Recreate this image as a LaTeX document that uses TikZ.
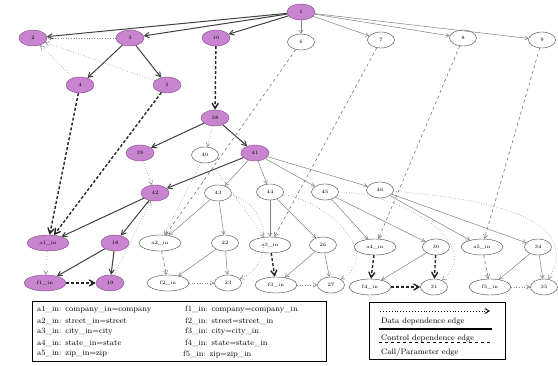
\documentclass[tikz,border=0pt]{standalone}
\usepackage{tikz}
\usetikzlibrary{shapes.geometric,arrows,positioning}
\definecolor{slicepink}{RGB}{200,132,206}
\definecolor{sliceline}{RGB}{125,70,135}
\tikzset
{
    slicenode/.style = {ellipse, draw=sliceline, fill=slicepink, minimum width=28pt, minimum height=16pt, inner sep=1pt, font=\tiny},
    plainnode/.style = {ellipse, draw=black!75, fill=white, minimum width=27pt, minimum height=16pt, inner sep=1pt, font=\tiny},
    paramnode/.style = {minimum width=42pt},
    ctrledge/.style  = {draw=black!75, line width=1pt},
    thinedge/.style  = {draw=black!50, line width=0.5pt},
    dataedge/.style  = {draw=black!45, dotted, line width=0.6pt},
    calledge/.style  = {draw=black!55, dashed, line width=0.6pt},
    heavyedge/.style = {draw=black!85, line width=1.4pt, dash pattern=on 3pt off 2pt},
    keytext/.style   = {anchor=west, font=\footnotesize, inner sep=0pt}
}

\begin{document}
\begin{tikzpicture}
    [->,>=angle 60,x=1pt,y=-1pt]
    \useasboundingbox (0,0) rectangle (558,366);
    % top part
    \node [slicenode] (n1) at (301,12) {1};
    \node [slicenode] (n2) at (33,38) {2};
    \node [slicenode] (n3) at (130,38) {3};
    \node [slicenode] (n10) at (216,38) {10};
    \node [plainnode] (n6) at (301,42) {6};
    \node [plainnode] (n7) at (381,40) {7};
    \node [plainnode] (n8) at (463,38) {8};
    \node [plainnode] (n9) at (542,40) {9};
    \node [slicenode] (n4) at (80,85) {4};
    \node [slicenode] (n5) at (167,85) {5};
    \node [slicenode] (n38) at (215,118) {38};
    \node [slicenode] (n39) at (140,153) {39};
    \node [plainnode] (n40) at (205,155) {40};
    \node [slicenode] (n41) at (255,153) {41};
    \node [slicenode] (n42) at (155,193) {42};
    \node [plainnode] (n43) at (218,193) {43};
    \node [plainnode] (n44) at (270,192) {44};
    \node [plainnode] (n45) at (325,192) {45};
    \node [plainnode] (n46) at (380,190) {46};
    % parameter nodes
    \node [slicenode, paramnode] (a1) at (48,243) {a1\_in};
    \node [slicenode] (n18) at (115,243) {18};
    \node [slicenode, paramnode] (f1) at (45,283) {f1\_in};
    \node [slicenode] (n19) at (110,283) {19};
    \node [plainnode, paramnode] (a2) at (160,243) {a2\_in};
    \node [plainnode] (n22) at (225,243) {22};
    \node [plainnode, paramnode] (f2) at (168,283) {f2\_in};
    \node [plainnode] (n23) at (228,283) {23};
    \node [plainnode, paramnode] (a3) at (270,245) {a3\_in};
    \node [plainnode] (n26) at (323,245) {26};
    \node [plainnode, paramnode] (f3) at (276,285) {f3\_in};
    \node [plainnode] (n27) at (331,285) {27};
    \node [plainnode, paramnode] (a4) at (375,247) {a4\_in};
    \node [plainnode] (n30) at (436,247) {30};
    \node [plainnode, paramnode] (f4) at (370,287) {f4\_in};
    \node [plainnode] (n31) at (434,287) {31};
    \node [plainnode, paramnode] (a5) at (482,247) {a5\_in};
    \node [plainnode] (n34) at (538,247) {34};
    \node [plainnode, paramnode] (f5) at (490,287) {f5\_in};
    \node [plainnode] (n35) at (544,287) {35};

    % control edges
    \draw [ctrledge] (n1) -- (n2);
    \draw [ctrledge] (n1) -- (n3);
    \draw [ctrledge] (n1) -- (n10);
    \draw [thinedge] (n1) -- (n6);
    \draw [thinedge] (n1) -- (n7);
    \draw [thinedge] (n1) -- (n8);
    \draw [thinedge] (n1) -- (n9);
    \draw [ctrledge] (n3) -- (n4);
    \draw [ctrledge] (n3) -- (n5);
    \draw [ctrledge] (n38) -- (n39);
    \draw [ctrledge] (n38) -- (n41);
    \draw [ctrledge] (n41) -- (n42);
    \draw [thinedge] (n41) -- (n43);
    \draw [thinedge] (n41) -- (n44);
    \draw [thinedge] (n41) -- (n45);
    \draw [thinedge] (n41) -- (n46);
    \draw [ctrledge] (n42) -- (a1);
    \draw [ctrledge] (n42) -- (n18);
    \draw [ctrledge] (n18) -- (f1);
    \draw [ctrledge] (n18) -- (n19);
    \draw [thinedge] (n43) -- (a2);
    \draw [thinedge] (n43) -- (n22);
    \draw [thinedge] (n22) -- (f2);
    \draw [thinedge] (n22) -- (n23);
    \draw [thinedge] (n44) -- (a3);
    \draw [thinedge] (n44) -- (n26);
    \draw [thinedge] (n26) -- (f3);
    \draw [thinedge] (n26) -- (n27);
    \draw [thinedge] (n45) -- (a4);
    \draw [thinedge] (n45) -- (n30);
    \draw [thinedge] (n30) -- (f4);
    \draw [thinedge] (n46) -- (a5);
    \draw [thinedge] (n46) -- (n34);
    \draw [thinedge] (n34) -- (f5);
    \draw [thinedge] (n34) -- (n35);

    % data edges
    \draw [dataedge] (n3) -- (n2);
    \draw [dataedge] (n4) -- (n2);
    \draw [dataedge] (n5) -- (n2);
    \draw [dataedge] (n38) -- (n40);
    \draw [dataedge] (n39) -- (n42);
    \draw [dataedge] (n19) -- (n42);
    \draw [dataedge] (n40) -- (a2);
    \draw [dataedge] (n40) -- (a3);
    \draw [dataedge] (a1) -- (f1);
    \draw [dataedge] (f2) -- (n23);
    \draw [dataedge] (f3) -- (n27);
    \draw [dataedge] (f5) -- (n35);
    \draw [dataedge] (n43) to [out=-10, in=20, looseness=1.2] (n23);
    \draw [dataedge] (n44) to [out=-10, in=30, looseness=1.2] (n27);
    \draw [dataedge] (n45) to [out=0, in=40, looseness=1.1] (n31);
    \draw [dataedge] (n46) to [out=-5, in=60, looseness=1.1] (n35);

    % call and parameter edges
    \draw [heavyedge] (n10) -- (n38);
    \draw [heavyedge] (n4) -- (a1);
    \draw [heavyedge] (n5) -- (a1);
    \draw [calledge] (n6) -- (a2);
    \draw [calledge] (n7) -- (a3);
    \draw [calledge] (n8) -- (a4);
    \draw [calledge] (n9) -- (a5);
    \draw [calledge] (a2) -- (f2);
    \draw [heavyedge] (a3) -- (f3);
    \draw [heavyedge] (a4) -- (f4);
    \draw [heavyedge] (n30) -- (n31);
    \draw [calledge] (a5) -- (f5);
    \draw [heavyedge] (f1) -- (n19);
    \draw [heavyedge] (f4) -- (n31);

    % variable key
    \draw [-, line width=1pt] (32,302) rectangle (326,362);
    \node [keytext] (k1) at (37,310) {a1\_in: company\_in=company};
    \node [keytext] (k2) at (37,321) {a2\_in: street\_in=street};
    \node [keytext] (k3) at (37,332) {a3\_in: city\_in=city};
    \node [keytext] (k4) at (37,343) {a4\_in: state\_in=state};
    \node [keytext] (k5) at (37,354) {a5\_in: zip\_in=zip};
    \node [keytext] (k6) at (185,310) {f1\_in: company=company\_in};
    \node [keytext] (k7) at (185,321) {f2\_in: street=street\_in};
    \node [keytext] (k8) at (185,332) {f3\_in: city=city\_in};
    \node [keytext] (k9) at (185,343) {f4\_in: state=state\_in};
    \node [keytext] (k10) at (183,354) {f5\_in: zip=zip\_in};

    % edge key
    \draw [-, line width=1pt] (369,303) rectangle (505,360);
    \draw [dataedge, draw=black, line width=0.9pt] (380,311) -- (490,311);
    \node [keytext] (d1) at (381,322) {Data dependence edge};
    \draw [-, line width=1.2pt] (379,329) -- (492,329);
    \node [keytext] (d2) at (381,339) {Control dependence edge};
    \draw [-, dashed, line width=1pt] (379,343) -- (492,343);
    \node [keytext] (d3) at (381,353) {Call/Parameter edge};
\end{tikzpicture}
\end{document}
